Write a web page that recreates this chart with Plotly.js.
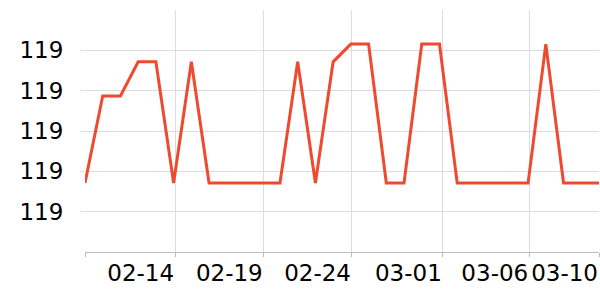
<!DOCTYPE html>
<html>
<head>
<meta charset="utf-8">
<script src="https://cdn.plot.ly/plotly-3.0.1.min.js"></script>
<style>html,body{margin:0;padding:0;background:#fff}#chart{width:600px;height:300px}</style>
</head>
<body>
<div id="chart"></div>
<script>
const dates = ["2023-02-09","2023-02-10","2023-02-11","2023-02-12","2023-02-13","2023-02-14","2023-02-15","2023-02-16","2023-02-17","2023-02-18",
"2023-02-19","2023-02-20","2023-02-21","2023-02-22","2023-02-23","2023-02-24","2023-02-25","2023-02-26","2023-02-27","2023-02-28",
"2023-03-01","2023-03-02","2023-03-03","2023-03-04","2023-03-05","2023-03-06","2023-03-07","2023-03-08","2023-03-09","2023-03-10"];
const values = [119.0342,119.0774,119.0774,119.0943,119.0943,119.0342,119.0943,119.0342,119.0342,119.0342,
119.0342,119.0342,119.0943,119.0342,119.0943,119.1031,119.1031,119.0342,119.0342,119.1031,
119.1031,119.0342,119.0342,119.0342,119.0342,119.0342,119.1031,119.0342,119.0342,119.0342];
const xTickVals = ["2023-02-09","2023-02-14 02:00","2023-02-19 02:00","2023-02-24 01:30","2023-03-01 04:30","2023-03-06 01:30","2023-03-10"];
const xTickText = ["","02-14","02-19","02-24","03-01","03-06","03-10"];
const yTickVals = [119.02,119.04,119.06,119.08,119.10];
const yTickText = ["119","119","119","119","119"];

const tf = {family: "DejaVu Sans", size: 23, color: "#000"};
Plotly.newPlot("chart", [{
  x: dates, y: values, type: "scatter", mode: "lines",
  line: {color: "#ee4a2f", width: 3}, hoverinfo: "skip"
}], {
  width: 600, height: 300,
  margin: {l: 85, r: 1, t: 10, b: 48},
  paper_bgcolor: "#fff", plot_bgcolor: "#fff",
  showlegend: false,
  font: tf,
  xaxis: {
    type: "date", range: ["2023-02-09","2023-03-10"],
    tickmode: "array", tickvals: xTickVals, ticktext: xTickText,
    ticklabelposition: "outside left", tickangle: 0, tickfont: tf,
    ticklabeloverflow: "allow",
    showgrid: true, gridcolor: "#dcdcdc", gridwidth: 1,
    showline: true, linecolor: "#bcbcbc", linewidth: 1,
    ticks: "outside", ticklen: 4, tickcolor: "#bcbcbc",
    zeroline: false, fixedrange: true
  },
  yaxis: {
    range: [119.0, 119.12],
    tickmode: "array", tickvals: yTickVals, ticktext: yTickText, tickfont: tf,
    showgrid: true, gridcolor: "#dcdcdc", gridwidth: 1,
    showline: false,
    ticks: "outside", ticklen: 4, tickcolor: "#dcdcdc",
    ticklabelstandoff: 12,
    zeroline: false, fixedrange: true
  }
}, {displayModeBar: false, staticPlot: true});
</script>
</body>
</html>
